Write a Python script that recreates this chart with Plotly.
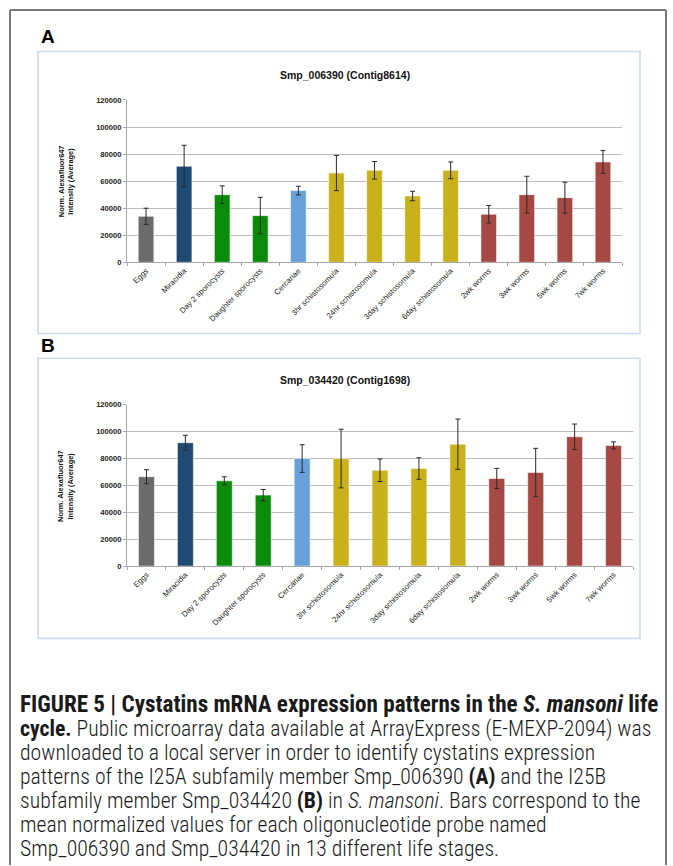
import plotly.graph_objects as go

W, H = 673, 866

stages = ["Eggs", "Miracidia", "Day 2 sporocysts", "Daughter sporocysts", "Cercariae",
          "3hr schistosomula", "24hr schistosomula", "3day schistosomula", "6day schistosomula",
          "2wk worms", "3wk worms", "5wk worms", "7wk worms"]

a_values = [34000, 71000, 50000, 34500, 53000, 66000, 68000, 49000, 68000, 35500, 50000, 47800, 74200]
a_errors = [6000, 15500, 6500, 13500, 3200, 13000, 6500, 3500, 6200, 6500, 13600, 11400, 8400]

b_values = [66500, 91800, 63400, 52800, 80000, 80000, 71300, 72600, 90700, 65200, 69600, 96200, 89800]
b_errors = [5200, 5500, 3000, 4200, 10300, 21800, 8400, 8000, 18700, 7500, 18000, 9500, 2600]

bar_colors = ["#6b6b6b", "#1f4a74", "#0a8c0a", "#0a8c0a", "#68a0da",
              "#c9b11b", "#c9b11b", "#c9b11b", "#c9b11b",
              "#a64944", "#a64944", "#a64944", "#a64944"]

title_a = "Smp_006390 (Contig8614)"
title_b = "Smp_034420 (Contig1698)"

caption_lines = [
    "<b>FIGURE 5 | Cystatins mRNA expression patterns in the <i>S. mansoni</i> life</b>",
    "<b>cycle.</b> Public microarray data available at ArrayExpress (E-MEXP-2094) was",
    "downloaded to a local server in order to identify cystatins expression",
    "patterns of the I25A subfamily member Smp_006390 <b>(A)</b> and the I25B",
    "subfamily member Smp_034420 <b>(B)</b> in <i>S. mansoni</i>. Bars correspond to the",
    "mean normalized values for each oligonucleotide probe named",
    "Smp_006390 and Smp_034420 in 13 different life stages.",
]


def px_x(x):
    return x / W


def px_y(y):
    return 1 - y / H


fig = go.Figure()

for vals, errs, xa, ya in [(a_values, a_errors, "x", "y"), (b_values, b_errors, "x2", "y2")]:
    fig.add_trace(go.Bar(
        x=stages, y=vals, xaxis=xa, yaxis=ya,
        marker=dict(color=bar_colors, line=dict(color="rgba(255,255,255,0.55)", width=1)),
        error_y=dict(type="data", array=errs, visible=True, color="#2a2a2a", thickness=1, width=2.5),
        showlegend=False, hoverinfo="x+y",
    ))

tickfont_x = dict(family="Liberation Sans, Arial, sans-serif", size=7.8, color="#1a1a1a")
tickfont_y = dict(family="Liberation Sans, Arial, sans-serif", size=7.6, color="#222", weight="bold")

common_x = dict(type="category", showline=True, linecolor="#a6a6a6", linewidth=1,
                ticks="outside", tickson="boundaries", ticklen=3, tickcolor="#a6a6a6",
                tickangle=-45, tickfont=tickfont_x, showgrid=False, fixedrange=True)
common_y = dict(range=[0, 120000], dtick=20000, tickformat="d", showline=True,
                linecolor="#a6a6a6", linewidth=1, ticks="outside", ticklen=3,
                tickcolor="#a6a6a6", showgrid=True, gridcolor="#bcbcbc", gridwidth=1.3,
                tickfont=tickfont_y, zeroline=False, fixedrange=True)

fig.update_layout(
    width=W, height=H, margin=dict(l=0, r=0, t=0, b=0),
    paper_bgcolor="white", plot_bgcolor="white",
    bargap=0.59,
    xaxis=dict(common_x, domain=[px_x(127), px_x(622)], anchor="y"),
    yaxis=dict(common_y, domain=[px_y(261), px_y(97)], anchor="x"),
    xaxis2=dict(common_x, domain=[px_x(127), px_x(633)], anchor="y2"),
    yaxis2=dict(common_y, domain=[px_y(568), px_y(405)], anchor="x2"),
)

shapes = []
# outer frame
frame = dict(type="line", xref="paper", yref="paper", line=dict(color="#7a7a7a", width=2))
shapes.append(dict(frame, x0=px_x(10), x1=px_x(10), y0=px_y(6), y1=px_y(870)))
shapes.append(dict(frame, x0=px_x(666), x1=px_x(666), y0=px_y(6), y1=px_y(870)))
shapes.append(dict(frame, x0=px_x(10), x1=px_x(666), y0=px_y(6), y1=px_y(6)))
# panel boxes
for y0, y1 in [(48, 333), (358, 641)]:
    shapes.append(dict(type="rect", xref="paper", yref="paper",
                       x0=px_x(38), x1=px_x(640), y0=px_y(y1), y1=px_y(y0),
                       line=dict(color="#c9dcf2", width=1.6)))
fig.update_layout(shapes=shapes)

ann = []
bold_font = dict(family="Liberation Sans, Arial, sans-serif", color="#000")
# panel letters
ann.append(dict(text="<b>A</b>", x=px_x(39), y=px_y(33), xanchor="left", yanchor="middle",
                font=dict(bold_font, size=19)))
ann.append(dict(text="<b>B</b>", x=px_x(39), y=px_y(345), xanchor="left", yanchor="middle",
                font=dict(bold_font, size=19)))
# titles
ann.append(dict(text="<b>" + title_a + "</b>", x=px_x(345), y=px_y(72), xanchor="center",
                yanchor="middle", font=dict(bold_font, size=10.5, color="#111")))
ann.append(dict(text="<b>" + title_b + "</b>", x=px_x(345), y=px_y(380), xanchor="center",
                yanchor="middle", font=dict(bold_font, size=10.5, color="#111")))
# y-axis titles
for yc in [179, 487]:
    ann.append(dict(text="<b>Norm. Alexafluor647</b>", x=px_x(61), y=px_y(yc), textangle=-90,
                    xanchor="center", yanchor="middle", font=dict(bold_font, size=7.4, color="#111")))
    ann.append(dict(text="<b>Intensity (Average)</b>", x=px_x(70.5), y=px_y(yc), textangle=-90,
                    xanchor="center", yanchor="middle", font=dict(bold_font, size=7.4, color="#111")))
# caption
for i, line in enumerate(caption_lines):
    size = 23.1 if i == 0 else 21.7
    cap_font = dict(family="Roboto Condensed, Liberation Sans Narrow, Arial Narrow, sans-serif",
                    size=size, color="#1a1a1a", weight=300)
    ann.append(dict(text=line, x=px_x(19), y=px_y(708 + 24.2 * i), xanchor="left",
                    yanchor="middle", font=cap_font, borderpad=0))

for a in ann:
    a.update(xref="paper", yref="paper", showarrow=False)
fig.update_layout(annotations=ann)

fig.write_html("out.html", config={"displayModeBar": False},
               post_script="document.body.style.margin='0px';document.body.style.overflow='hidden';")
